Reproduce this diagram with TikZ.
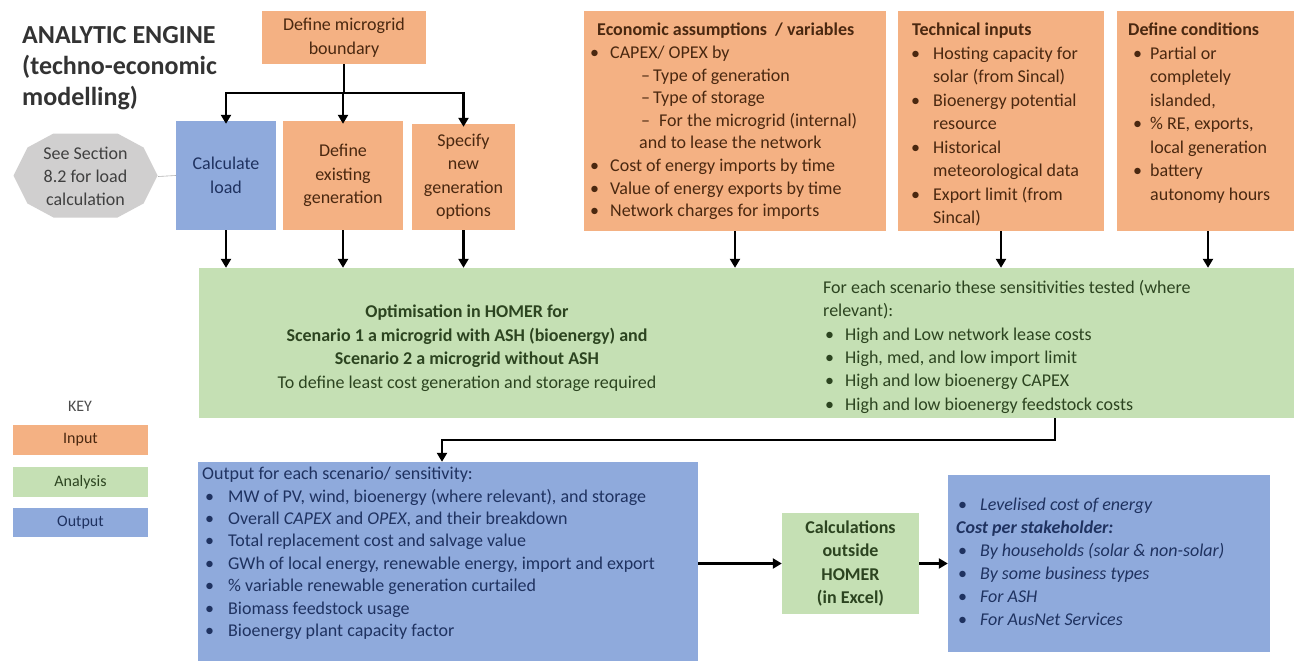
\documentclass[tikz,border=0pt]{standalone}
\usepackage{fontspec}
\setmainfont{Carlito}
\usetikzlibrary{arrows.meta}
\definecolor{ofill}{HTML}{F4B183}
\definecolor{gfill}{HTML}{C5E0B4}
\definecolor{bfill}{HTML}{8FAADC}
\definecolor{sfill}{HTML}{D0CFCF}
\definecolor{otext}{HTML}{4A2810}
\definecolor{gtext}{HTML}{2C4420}
\definecolor{btext}{HTML}{1F3260}
\definecolor{stext}{HTML}{404040}
\newcommand{\li}[3]{\hspace*{#1pt}\makebox[#2pt][l]{\textbullet}#3}
\newcommand{\ld}[3]{\hspace*{#1pt}\makebox[#2pt][l]{–}#3}
\begin{document}
\begin{tikzpicture}[x=1pt,y=-1pt,
  obox/.style={rectangle, fill=ofill, inner sep=0pt, text=otext, align=center},
  gbox/.style={rectangle, fill=gfill, inner sep=0pt, text=gtext, align=center},
  bbox/.style={rectangle, fill=bfill, inner sep=0pt, text=btext, align=center},
  txt/.style={inner sep=0pt, anchor=north west, align=left},
  fnt/.style={font=\fontsize{18pt}{#1}\selectfont},
  fnt/.default={23pt},
  arr/.style={line width=2.6pt, -{Triangle[length=9pt,width=10pt]}},
  ln/.style={line width=2.6pt}]
\useasboundingbox (0,0) rectangle (1294,661);
\fill[white] (0,0) rectangle (1294,661);

% title
\node[txt, font=\fontsize{26pt}{31pt}\selectfont\bfseries, text=black!80] (title) at (22,26)
  {ANALYTIC ENGINE\\(techno-economic\\modelling)};

% top boxes
\node[obox, fnt=24pt, minimum width=164pt, minimum height=53pt] (bound) at (344,37.5) {Define microgrid\\boundary};
\node[bbox, fnt=23.5pt, minimum width=100pt, minimum height=109pt] (calc) at (226,175.5) {Calculate\\load};
\node[obox, fnt=23.5pt, minimum width=120pt, minimum height=109pt] (exist) at (343,175.5) {Define\\existing\\generation};
\node[obox, fnt=23.5pt, minimum width=103pt, minimum height=106pt] (spec) at (463.5,177) {Specify\\new\\generation\\options};

% see section octagon
\fill[sfill, shift={(85.5,175.5)}] (-72,0) -- (-58,-28) -- (-32,-42) -- (32,-42) -- (58,-28) -- (72,0) -- (58,28) -- (32,42) -- (-32,42) -- (-58,28) -- cycle;
\node[inner sep=0pt, fnt=23pt, text=stext, align=center, minimum width=145pt, minimum height=85pt] (see) at (85.5,176.5) {See Section\\8.2 for load\\calculation};
\draw[black!30, line width=0.6pt] (see.east) -- (calc.west);

% input boxes
\node[obox, minimum width=302pt, minimum height=220pt] (econ) at (735,121) {};
\node[txt, fnt=22.6pt, text=otext] (econT) at (589,23) {%
\hspace*{8pt}\textbf{Economic assumptions \ / variables}\\
\li{1}{20}{CAPEX/ OPEX by}\\
\ld{52}{12}{Type of generation}\\
\ld{52}{12}{Type of storage}\\
\ld{52}{18}{For the microgrid (internal)}\\
\hspace*{50pt}and to lease the network\\
\li{1}{20}{Cost of energy imports by time}\\
\li{1}{20}{Value of energy exports by time}\\
\li{1}{20}{Network charges for imports}};

\node[obox, minimum width=206pt, minimum height=220pt] (tech) at (1001,121) {};
\node[txt, fnt=23.5pt, text=otext] (techT) at (902,23) {%
\hspace*{10pt}\textbf{Technical inputs}\\
\li{9}{22}{Hosting capacity for}\\
\hspace*{31pt}solar (from Sincal)\\
\li{9}{22}{Bioenergy potential}\\
\hspace*{31pt}resource\\
\li{9}{22}{Historical}\\
\hspace*{31pt}meteorological data\\
\li{9}{22}{Export limit (from}\\
\hspace*{31pt}Sincal)};

\node[obox, minimum width=177pt, minimum height=220pt] (cond) at (1205.5,121) {};
\node[txt, fnt=23.5pt, text=otext] (condT) at (1121,23) {%
\hspace*{7pt}\textbf{Define conditions}\\
\li{12}{17}{Partial or}\\
\hspace*{29pt}completely\\
\hspace*{29pt}islanded,\\
\li{12}{17}{\% RE, exports,}\\
\hspace*{29pt}local generation\\
\li{12}{17}{battery}\\
\hspace*{29pt}autonomy hours};

% green analysis box
\node[gbox, minimum width=1095pt, minimum height=150pt] (green) at (746.5,343) {};
\node[inner sep=0pt, fnt=23.5pt, text=gtext, align=center] (optT) at (467,348) {%
\textbf{Optimisation in HOMER for}\\
\textbf{Scenario 1 a microgrid with ASH (bioenergy) and}\\
\textbf{Scenario 2 a microgrid without ASH}\\
To define least cost generation and storage required};
\node[txt, fnt=23.4pt, text=gtext] (sensT) at (823,280) {%
For each scenario these sensitivities tested (where\\
relevant):\\
\li{2}{20}{High and Low network lease costs}\\
\li{2}{20}{High, med, and low import limit}\\
\li{2}{20}{High and low bioenergy CAPEX}\\
\li{2}{20}{High and low bioenergy feedstock costs}};

% output boxes
\node[bbox, minimum width=500pt, minimum height=199pt] (out) at (448,561.5) {};
\node[txt, fnt=22.4pt, text=btext] (outT) at (202,467) {%
Output for each scenario/ sensitivity:\\
\li{3}{23}{MW of PV, wind, bioenergy (where relevant), and storage}\\
\li{3}{23}{Overall \textit{CAPEX} and \textit{OPEX}, and their breakdown}\\
\li{3}{23}{Total replacement cost and salvage value}\\
\li{3}{23}{GWh of local energy, renewable energy, import and export}\\
\li{3}{23}{\% variable renewable generation curtailed}\\
\li{3}{23}{Biomass feedstock usage}\\
\li{3}{23}{Bioenergy plant capacity factor}};

\node[gbox, font=\fontsize{18pt}{23.3pt}\selectfont\bfseries, minimum width=137pt, minimum height=101pt] (calcx) at (850.5,563.5) {Calculations\\outside\\HOMER\\(in Excel)};

\node[bbox, minimum width=322pt, minimum height=177pt] (stake) at (1109,563.5) {};
\node[txt, fnt=23pt, text=btext] (stakeT) at (956,498) {%
\li{2}{22}{\textit{Levelised cost of energy}}\\
\textbf{\textit{Cost per stakeholder:}}\\
\li{2}{22}{\textit{By households (solar \& non-solar)}}\\
\li{2}{22}{\textit{By some business types}}\\
\li{2}{22}{\textit{For ASH}}\\
\li{2}{22}{\textit{For AusNet Services}}};

% key
\node[inner sep=0pt, font=\fontsize{16pt}{19pt}\selectfont, text=black!70] (key) at (80,406) {KEY};
\node[obox, font=\fontsize{16pt}{19pt}\selectfont, minimum width=135pt, minimum height=30pt] (kin) at (80.5,440) {Input};
\node[gbox, font=\fontsize{16pt}{19pt}\selectfont, minimum width=135pt, minimum height=30pt] (kan) at (80.5,482) {Analysis};
\node[bbox, font=\fontsize{16pt}{19pt}\selectfont, minimum width=135pt, minimum height=29pt] (kout) at (80.5,522.5) {Output};

% connectors
\coordinate (j) at (344,93);
\draw[ln] (bound.south) -- (j);
\draw[ln] (calc.north |- j) -- (spec.north |- j);
\draw[arr] (j) -| ([yshift=-3pt]calc.north);
\draw[arr] (j) -| ([yshift=-3pt]exist.north);
\draw[arr] (j) -| ([yshift=-3pt]spec.north);

\foreach \n in {calc,exist,spec,econ,tech}
  \draw[arr] (\n.south) -- (\n.south |- green.north);
\draw[arr] ([xshift=2.5pt]cond.south) -- ([xshift=2.5pt]cond.south |- green.north);

\coordinate (gout) at (1055,418);
\draw[arr] (gout) -- (1055,440) -| ([xshift=-6pt]out.north);
\draw[arr] (out.east |- calcx.west) -- (calcx.west);
\draw[arr] (calcx.east) -- (stake.west);
\end{tikzpicture}
\end{document}
